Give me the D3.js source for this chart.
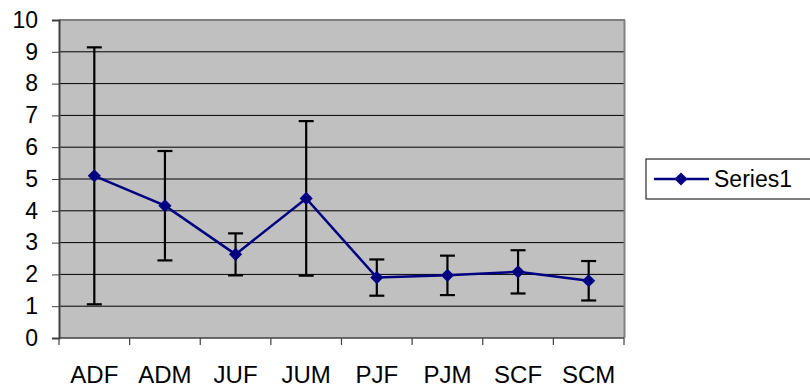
<!DOCTYPE html>
<html><head><meta charset="utf-8">
<script src="https://cdn.jsdelivr.net/npm/d3@7"></script>
<style>body{margin:0;background:#fff}svg{display:block}text{font-family:"Liberation Sans",Arial,sans-serif;fill:#000}</style>
</head><body>
<script>
const categories = ["ADF","ADM","JUF","JUM","PJF","PJM","SCF","SCM"];
const means = [5.10, 4.16, 2.63, 4.39, 1.90, 1.97, 2.08, 1.80];
const errors = [4.04, 1.72, 0.66, 2.43, 0.57, 0.62, 0.68, 0.62];
const yTicks = [0,1,2,3,4,5,6,7,8,9,10];
const seriesName = "Series1";

(function(){
const W = 810, H = 390;
const pL = 59, pR = 624, pT = 20, pB = 338;
const svg = d3.select("body").append("svg").attr("width", W).attr("height", H);

const x = d3.scaleBand().domain(categories).range([pL, pR]).padding(0);
const y = d3.scaleLinear().domain([0, 10]).range([pB, pT]);

svg.append("rect").attr("x", pL).attr("y", pT).attr("width", pR-pL).attr("height", pB-pT).attr("fill", "#c0c0c0");

// gridlines
svg.append("g").selectAll("line").data(yTicks.filter(d => d > 0 && d < 10)).join("line")
  .attr("x1", pL).attr("x2", pR).attr("y1", d => y(d)).attr("y2", d => y(d))
  .attr("stroke", "#000").attr("stroke-width", 1);

// top & right border
svg.append("line").attr("x1", pL).attr("x2", pR+1).attr("y1", pT).attr("y2", pT).attr("stroke", "#808080").attr("stroke-width", 2);
svg.append("line").attr("x1", pR+0.5).attr("x2", pR+0.5).attr("y1", pT).attr("y2", pB).attr("stroke", "#808080").attr("stroke-width", 2);

// y axis
const yAxis = d3.axisLeft(y).tickValues(yTicks).tickSize(7).tickPadding(14).tickFormat(d3.format("d"));
const gy = svg.append("g").attr("transform", `translate(${pL},0)`).call(yAxis);
gy.select(".domain").attr("stroke", "#404040").attr("stroke-width", 2);
gy.selectAll(".tick line").attr("stroke", "#404040");
gy.selectAll("text").attr("font-size", 23).attr("fill", "#000").attr("font-family", "Liberation Sans, Arial, sans-serif");

// x axis (ticks at category boundaries)
const gx = svg.append("g").attr("transform", `translate(0,${pB})`);
gx.append("line").attr("x1", pL).attr("x2", pR).attr("y1", 0).attr("y2", 0).attr("stroke", "#404040").attr("stroke-width", 1.5);
const boundaries = categories.map(c => x(c)).concat([pR]);
gx.selectAll("line.tk").data(boundaries).join("line").attr("class", "tk")
  .attr("x1", d => d).attr("x2", d => d).attr("y1", 0).attr("y2", 7).attr("stroke", "#404040").attr("stroke-width", 1.2);
gx.selectAll("text").data(categories).join("text")
  .attr("x", d => x(d) + x.bandwidth()/2).attr("y", 45)
  .attr("text-anchor", "middle").attr("font-size", 24).text(d => d);

const cx = (d, i) => x(categories[i]) + x.bandwidth()/2;

// error bars
const eb = svg.append("g").attr("stroke", "#000").attr("stroke-width", 2.2);
means.forEach((m, i) => {
  const xc = cx(null, i);
  const hi = y(m + errors[i]), lo = y(m - errors[i]);
  eb.append("line").attr("x1", xc).attr("x2", xc).attr("y1", hi).attr("y2", lo);
  eb.append("line").attr("x1", xc-7.5).attr("x2", xc+7.5).attr("y1", hi).attr("y2", hi);
  eb.append("line").attr("x1", xc-7.5).attr("x2", xc+7.5).attr("y1", lo).attr("y2", lo);
});

// line
const line = d3.line().x((d, i) => cx(d, i)).y(d => y(d));
svg.append("path").datum(means).attr("d", line).attr("fill", "none").attr("stroke", "#000080").attr("stroke-width", 2.5);

const diamond = d3.symbol().type(d3.symbolDiamond2).size(110);
svg.append("g").selectAll("path").data(means).join("path")
  .attr("d", diamond).attr("transform", (d, i) => `translate(${cx(d, i)},${y(d)})`)
  .attr("fill", "#000080");

// legend
const lg = svg.append("g");
lg.append("rect").attr("x", 646).attr("y", 159).attr("width", 180).attr("height", 40).attr("fill", "#fff").attr("stroke", "#000").attr("stroke-width", 1);
lg.append("line").attr("x1", 654).attr("x2", 709).attr("y1", 179).attr("y2", 179).attr("stroke", "#000080").attr("stroke-width", 2.5);
lg.append("path").attr("d", diamond).attr("transform", "translate(681,179)").attr("fill", "#000080");
lg.append("text").attr("x", 714).attr("y", 187).attr("font-size", 23).text(seriesName);
})();
</script>
</body></html>
